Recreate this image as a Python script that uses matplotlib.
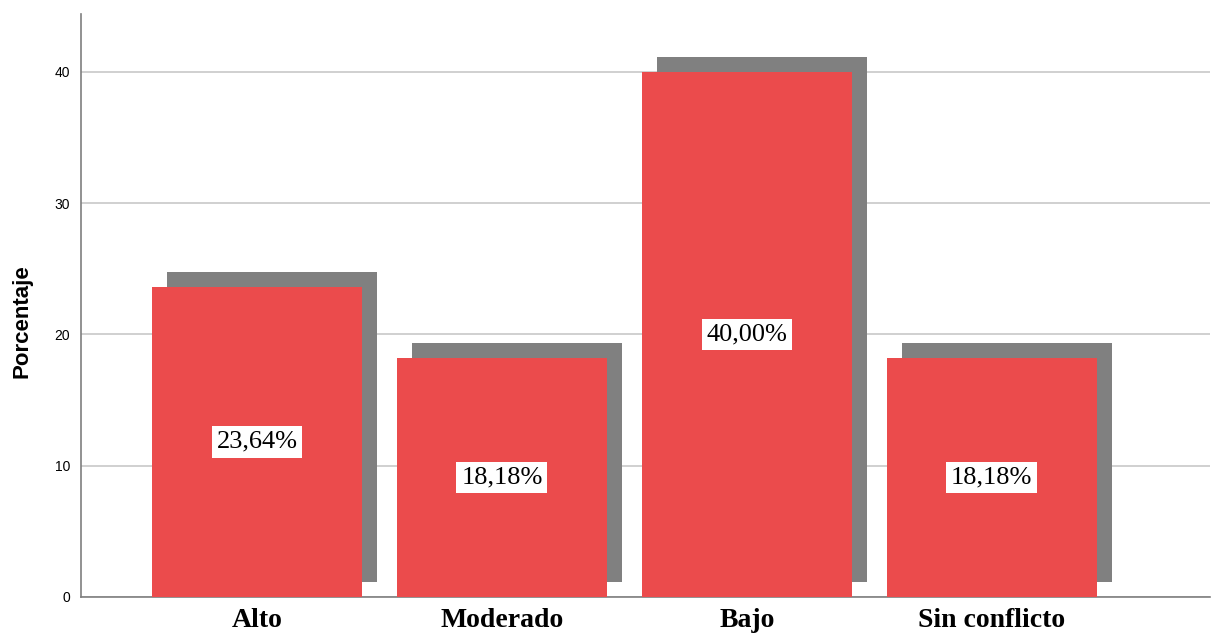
import numpy as np
import matplotlib.pyplot as plt
import matplotlib.transforms as mtransforms

categorias = ['Alto', 'Moderado', 'Bajo', 'Sin conflicto']
porcentajes = [23.64, 18.18, 40.00, 18.18]
etiquetas = ['23,64%', '18,18%', '40,00%', '18,18%']

rojo = '#EB4B4C'
sombra = '#808080'

fig = plt.figure(figsize=(12.15, 6.33), dpi=100)
ax = fig.add_axes([0.0667, 0.0569, 0.929, 0.921])

x = np.arange(len(categorias))
ancho = 0.857

# sombra desplazada hacia arriba y a la derecha
desplaz = mtransforms.offset_copy(ax.transData, fig=fig, x=15, y=15, units='dots')
ax.bar(x, porcentajes, width=ancho, color=sombra, transform=desplaz, zorder=2)
ax.bar(x, porcentajes, width=ancho, color=rojo, zorder=3)

for xi, v, txt in zip(x, porcentajes, etiquetas):
    ax.text(xi, v / 2, txt, ha='center', va='center', fontsize=19,
            family='Liberation Serif', zorder=4,
            bbox=dict(facecolor='white', edgecolor='none', pad=3.5))

ax.set_xlim(-0.718, 3.89)
ax.set_ylim(0, 44.4)
ax.set_yticks([0, 10, 20, 30, 40])
ax.set_xticks(x)
ax.set_xticklabels(categorias, family='Liberation Serif', fontweight='bold', fontsize=20)
ax.tick_params(axis='x', length=0, pad=8)
ax.tick_params(axis='y', length=0, pad=8, labelsize=10)
for lab in ax.get_yticklabels():
    lab.set_family('Liberation Sans')

ax.set_ylabel('Porcentaje', family='Liberation Sans', fontweight='bold', fontsize=16)
ax.yaxis.set_label_coords(-0.0434, 0.473)

ax.yaxis.grid(True, color='#c8c8c8', linewidth=1.2, zorder=0)
ax.set_axisbelow(True)
for lado in ['top', 'right']:
    ax.spines[lado].set_visible(False)
for lado in ['left', 'bottom']:
    ax.spines[lado].set_color('#7f7f7f')
    ax.spines[lado].set_linewidth(1.2)

plt.savefig('out.png', dpi=100)
